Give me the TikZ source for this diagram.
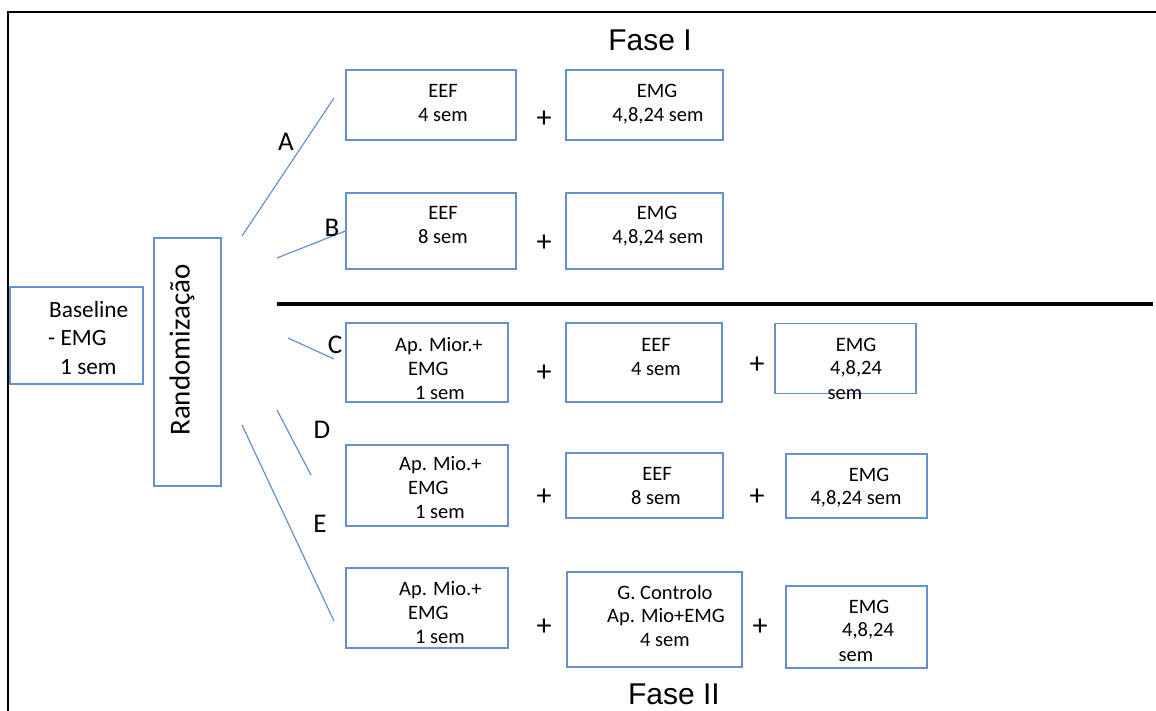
\documentclass[tikz,border=0pt]{standalone}
\usepackage{fontspec}
\setmainfont{Carlito}
\newfontfamily\arialf{Liberation Sans}
\definecolor{boxblue}{RGB}{100,145,205}
\tikzset{
  bx/.style={draw=boxblue, line width=1.3pt, inner sep=0pt},
  conn/.style={draw=boxblue, line width=1.2pt},
  tx/.style={inner sep=0pt, font=\fontsize{20.5}{24}\selectfont, text height=13.1pt, text depth=0pt},
  btx/.style={inner sep=0pt, font=\fontsize{23.3}{28}\selectfont, text height=15pt, text depth=0pt},
  lbl/.style={inner sep=0pt, font=\fontsize{27}{32}\selectfont, text height=17.4pt, text depth=0pt},
  plus/.style={inner sep=0pt, font=\fontsize{30}{34}\selectfont},
  fase/.style={inner sep=0pt, font=\arialf\fontsize{30}{36}\selectfont, text height=21.5pt, text depth=0pt},
}
\begin{document}
\begin{tikzpicture}[x=1pt,y=-1pt]
\useasboundingbox (0,0) rectangle (1156,711);
% frame
\coordinate (fTL) at (8,12);
\coordinate (fBL) at (8,711);
\coordinate (fTR) at (1156,12);
\draw[line width=2pt] (fBL) -- (fTL) -- (fTR);
\coordinate (sepL) at (277,304);
\coordinate (sepR) at (1153,304);
\draw[line width=3.5pt] (sepL) -- (sepR);

% titles
\node[fase] (f1) at (650,40) {Fase I};
\node[fase] (f2) at (674,694) {Fase II};

% baseline
\node[bx, minimum width=133, minimum height=97] (base) at (76.5,335.5) {};
\node[btx, anchor=west] (bt1) at (49,310) {Baseline};
\node[btx, anchor=west] (bt2) at (48,338) {- EMG};
\node[btx, anchor=west] (bt3) at (60,367) {1 sem};

% randomizacao
\node[bx, minimum width=67, minimum height=248] (rand) at (187.5,362) {};
\node[inner sep=0pt, font=\fontsize{29}{34}\selectfont, rotate=90] (rt) at (182,350) {Randomização};

% Fase I boxes
\node[bx, minimum width=170, minimum height=70] (a1) at (431,105) {};
\node[bx, minimum width=157, minimum height=70] (a2) at (644.5,105) {};
\node[tx] (a1t1) at (443,91) {EEF};
\node[tx] (a1t2) at (443,115) {4 sem};
\node[tx] (a2t1) at (657,91) {EMG};
\node[tx] (a2t2) at (658,115) {4,8,24 sem};
\node[plus] (ap) at (544,119) {+};

\node[bx, minimum width=170, minimum height=76] (b1) at (431,231) {};
\node[bx, minimum width=157, minimum height=76] (b2) at (644.5,231) {};
\node[tx] (b1t1) at (443,213) {EEF};
\node[tx] (b1t2) at (443,237) {8 sem};
\node[tx] (b2t1) at (657,213) {EMG};
\node[tx] (b2t2) at (658,237) {4,8,24 sem};
\node[plus] (bp) at (544,243) {+};

% Fase II row C
\node[bx, minimum width=162, minimum height=79] (c1) at (427,362.5) {};
\node[bx, minimum width=156, minimum height=79] (c2) at (644,362.5) {};
\node[bx, minimum width=141, minimum height=70] (c3) at (845.5,358.5) {};
\node[tx, anchor=west] (c1t1) at (395,345) {Ap. Mior.+};
\node[tx, anchor=west] (c1t2) at (408,369) {EMG};
\node[tx, anchor=west] (c1t3) at (415,393) {1 sem};
\node[tx] (c2t1) at (656,345) {EEF};
\node[tx] (c2t2) at (656,369) {4 sem};
\node[tx] (c3t1) at (856,345) {EMG};
\node[tx] (c3t2) at (856,368) {4,8,24};
\node[tx] (c3t3) at (845,393) {sem};
\node[plus] (cp1) at (544,373) {+};
\node[plus] (cp2) at (757,365) {+};

% row D
\node[bx, minimum width=162, minimum height=81] (d1) at (427,485.5) {};
\node[bx, minimum width=157, minimum height=65] (d2) at (644.5,485.5) {};
\node[bx, minimum width=141, minimum height=64] (d3) at (856.5,486) {};
\node[tx, anchor=west] (d1t1) at (399,464) {Ap. Mio.+};
\node[tx, anchor=west] (d1t2) at (408,488) {EMG};
\node[tx, anchor=west] (d1t3) at (415,512) {1 sem};
\node[tx] (d2t1) at (657,474) {EEF};
\node[tx] (d2t2) at (656,498) {8 sem};
\node[tx] (d3t1) at (869,475) {EMG};
\node[tx] (d3t2) at (856,498) {4,8,24 sem};
\node[plus] (dp1) at (544,497) {+};
\node[plus] (dp2) at (757,497) {+};

% row E
\node[bx, minimum width=162, minimum height=80] (e1) at (427,608) {};
\node[bx, minimum width=175, minimum height=95] (e2) at (654.5,619.5) {};
\node[bx, minimum width=141, minimum height=82] (e3) at (856.5,627) {};
\node[tx, anchor=west] (e1t1) at (399,589) {Ap. Mio.+};
\node[tx, anchor=west] (e1t2) at (408,613) {EMG};
\node[tx, anchor=west] (e1t3) at (415,637) {1 sem};
\node[tx] (e2t1) at (665,593) {G. Controlo};
\node[tx] (e2t2) at (666,616) {Ap. Mio+EMG};
\node[tx] (e2t3) at (665,640) {4 sem};
\node[tx] (e3t1) at (869,607) {EMG};
\node[tx] (e3t2) at (868,630) {4,8,24};
\node[tx] (e3t3) at (856,655) {sem};
\node[plus] (ep1) at (544,627) {+};
\node[plus] (ep2) at (760,627) {+};

% branches
\coordinate (As) at (242,236);
\coordinate (Ae) at (334,98);
\coordinate (Bs) at (277,258);
\coordinate (Cs) at (288,338);
\coordinate (Ce) at (334,359);
\coordinate (Ds) at (277,410);
\coordinate (De) at (311,475);
\coordinate (Es) at (242,425);
\coordinate (Ee) at (334,621);
\draw[conn] (As) -- (Ae);
\draw[conn] (Bs) -- (b1.west);
\draw[conn] (Cs) -- (Ce);
\draw[conn] (Ds) -- (De);
\draw[conn] (Es) -- (Ee);
\node[lbl] (lA) at (286,142) {A};
\node[lbl] (lB) at (332,228) {B};
\node[lbl] (lC) at (335,345) {C};
\node[lbl] (lD) at (322,430) {D};
\node[lbl] (lE) at (320,524) {E};
\end{tikzpicture}
\end{document}
